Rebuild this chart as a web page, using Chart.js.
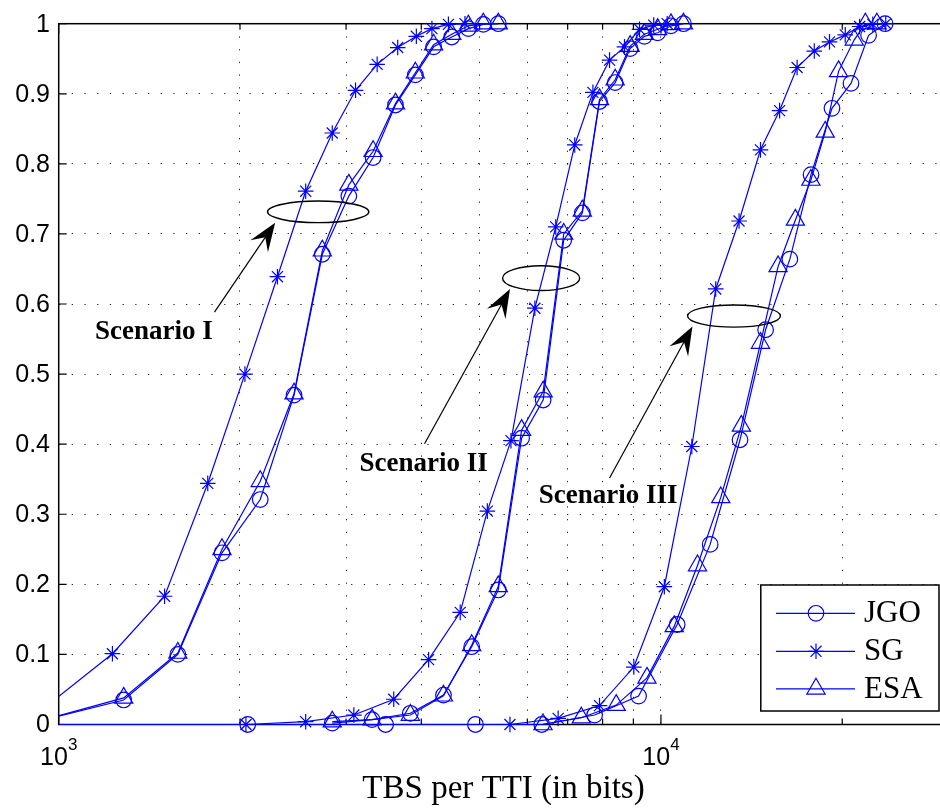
<!DOCTYPE html>
<html>
<head>
<meta charset="utf-8">
<script src="https://cdn.jsdelivr.net/npm/chart.js@4.4.1/dist/chart.umd.min.js"></script>
<style>
  html, body { margin: 0; padding: 0; background: #fff; overflow: hidden; }
  #wrap { width: 960px; height: 808px; }
  canvas { display: block; }
</style>
</head>
<body>
<div id="wrap"><canvas id="c" width="960" height="808"></canvas></div>
<script>
// ---------------- data ----------------
const seriesNames = ['JGO', 'SG', 'ESA'];
const xTitle = 'TBS per TTI (in bits)';
const xGridValues = [1000, 2000, 3000, 4000, 5000, 6000, 7000, 8000, 9000, 10000, 20000, 30000];
const xLabelValues = [1000, 10000];
const xLabelBases = ['10', '10'];
const xLabelExps = ['3', '4'];
const yTickLabels = ['0', '0.1', '0.2', '0.3', '0.4', '0.5', '0.6', '0.7', '0.8', '0.9', '1'];

// Scenario I
const jgoI_x = [985, 1282, 1577, 1867, 2161, 2459, 2740, 3032, 3327, 3624, 3910, 4193, 4494, 4789, 5071, 5370];
const jgoI_y = [0.0106, 0.035, 0.100, 0.245, 0.321, 0.470, 0.671, 0.754, 0.809, 0.884, 0.927, 0.967, 0.981, 0.993, 0.999, 1.0];
const sgI_x = [960, 1228, 1499, 1768, 2038, 2308, 2571, 2846, 3111, 3379, 3655, 3925, 4166, 4437, 4727];
const sgI_y = [0.028, 0.101, 0.183, 0.344, 0.500, 0.639, 0.761, 0.844, 0.905, 0.942, 0.966, 0.982, 0.993, 0.999, 1.0];
const esaI_x = [985, 1282, 1577, 1867, 2161, 2459, 2740, 3032, 3327, 3624, 3910, 4193, 4494, 4789, 5071, 5370];
const esaI_y = [0.011, 0.038, 0.102, 0.250, 0.347, 0.472, 0.676, 0.770, 0.818, 0.886, 0.930, 0.970, 0.985, 0.997, 1.0, 1.0];

// Scenario II
const jgoII_x = [2846, 3314, 3836, 4354, 4850, 5369, 5870, 6374, 6895, 7404, 7907, 8395, 8888, 9386, 9874, 10390, 10900];
const jgoII_y = [0.002, 0.007, 0.016, 0.042, 0.111, 0.192, 0.4085, 0.463, 0.691, 0.730, 0.889, 0.916, 0.9645, 0.982, 0.987, 0.997, 1.0];
const sgII_x = [2046, 2571, 3091, 3600, 4113, 4642, 5149, 5636, 6175, 6688, 7192, 7709, 8216, 8699, 9213, 9727, 10241];
const sgII_y = [0, 0.004, 0.0135, 0.036, 0.0925, 0.160, 0.3045, 0.405, 0.594, 0.710, 0.827, 0.902, 0.948, 0.967, 0.992, 0.998, 1.0];
const esaII_x = [2846, 3314, 3836, 4354, 4850, 5369, 5870, 6374, 6895, 7404, 7907, 8395, 8888, 9386, 9874, 10390, 10900];
const esaII_y = [0.004, 0.007, 0.0135, 0.041, 0.113, 0.197, 0.420, 0.475, 0.700, 0.733, 0.892, 0.920, 0.968, 0.985, 0.992, 0.999, 1.0];

// Scenario III
const jgoIII_x = [630, 2060, 3490, 4920, 6340, 7760, 9180, 10640, 12070, 13530, 14920, 16370, 17750, 19230, 20680, 22120, 23560];
const jgoIII_y = [0, 0, 0, 0, 0, 0.0135, 0.0405, 0.1427, 0.257, 0.4063, 0.5633, 0.664, 0.7847, 0.8793, 0.9148, 0.9834, 1.0];
const sgIII_x = [5614, 6750, 7907, 9015, 10130, 11253, 12330, 13480, 14630, 15740, 16830, 17970, 19050, 20230, 21370, 22480, 23620];
const sgIII_y = [0, 0.0088, 0.027, 0.082, 0.1966, 0.3967, 0.6215, 0.7185, 0.820, 0.876, 0.9375, 0.961, 0.974, 0.984, 0.996, 0.999, 1.0];
const esaIII_x = [6370, 7375, 8427, 9480, 10520, 11500, 12570, 13600, 14630, 15650, 16720, 17740, 18740, 19720, 20940, 21850, 22830];
const esaIII_y = [0, 0.0097, 0.0277, 0.0665, 0.140, 0.2268, 0.324, 0.426, 0.5443, 0.6536, 0.72, 0.777, 0.8457, 0.932, 0.977, 1.0, 1.0];

// annotations (data coordinates)
const annoTexts = ['Scenario I', 'Scenario II', 'Scenario III'];
const annoTextPos = [[1149, 0.550], [3159, 0.3622], [6270, 0.3165]];
const annoArrows = [[1814, 0.5884, 2288, 0.7161], [4050, 0.4006, 5615, 0.6214], [8216, 0.3517, 11280, 0.568]];
const annoEllipses = [[2222, 3273, 0.7469, 0.7161], [5458, 7329, 0.6546, 0.6192], [11070, 15790, 0.5987, 0.5671]];

// ---------------- chart ----------------
const BLUE = '#0000ff';
const styles = {
  JGO: { pointStyle: 'circle', radius: 7.8 },
  SG: { pointStyle: 'star', radius: 7.8 },
  ESA: { pointStyle: 'triangle', radius: 10.5 }
};
function toPts(xs, ys) { return xs.map((x, i) => ({ x: x, y: ys[i] })); }
function mk(name, xs, ys) {
  const st = styles[name];
  return {
    label: name,
    data: toPts(xs, ys),
    borderColor: BLUE,
    borderWidth: 1.2,
    backgroundColor: 'rgba(0,0,0,0)',
    pointStyle: st.pointStyle,
    pointRadius: (c) => (c.raw && c.raw.x < 1000) ? 0 : st.radius,
    pointBorderColor: BLUE,
    pointBackgroundColor: 'rgba(0,0,0,0)',
    pointBorderWidth: 1.2,
    tension: 0,
    fill: false,
    clip: { left: 0, top: 14, right: 14, bottom: 14 }
  };
}
const datasets = [
  mk('JGO', jgoI_x, jgoI_y), mk('SG', sgI_x, sgI_y), mk('ESA', esaI_x, esaI_y),
  mk('JGO', jgoII_x, jgoII_y), mk('SG', sgII_x, sgII_y), mk('ESA', esaII_x, esaII_y),
  mk('JGO', jgoIII_x, jgoIII_y), mk('SG', sgIII_x, sgIII_y), mk('ESA', esaIII_x, esaIII_y)
];

const decorPlugin = {
  id: 'decor',
  beforeDatasetsDraw(chart) {
    const { ctx, chartArea: a, scales: { x, y } } = chart;
    ctx.save();
    ctx.strokeStyle = '#000';
    ctx.lineWidth = 1.5;
    ctx.setLineDash([]);
    ctx.strokeRect(a.left, a.top, a.right - a.left, a.bottom - a.top);
    ctx.lineWidth = 1.2;
    ctx.beginPath();
    xGridValues.forEach(v => {
      const px = x.getPixelForValue(v);
      const len = (xLabelValues.indexOf(v) >= 0) ? 10 : 6;
      ctx.moveTo(px, a.bottom); ctx.lineTo(px, a.bottom - len);
      ctx.moveTo(px, a.top); ctx.lineTo(px, a.top + len);
    });
    yTickLabels.forEach((t, i) => {
      const py = y.getPixelForValue(i / 10);
      ctx.moveTo(a.left, py); ctx.lineTo(a.left + 8, py);
      ctx.moveTo(a.right, py); ctx.lineTo(a.right - 8, py);
    });
    ctx.stroke();
    ctx.restore();
  },
  afterDatasetsDraw(chart) {
    const { ctx, chartArea: a, scales: { x, y } } = chart;
    ctx.save();
    ctx.setLineDash([]);
    // x tick labels 10^n
    ctx.fillStyle = '#000';
    ctx.textAlign = 'left';
    ctx.textBaseline = 'alphabetic';
    xLabelValues.forEach((v, i) => {
      const px = x.getPixelForValue(v);
      ctx.font = '25px "Liberation Sans", Arial, sans-serif';
      const wb = ctx.measureText(xLabelBases[i]).width;
      ctx.font = '17px "Liberation Sans", Arial, sans-serif';
      const we = ctx.measureText(xLabelExps[i]).width;
      const x0 = px - (wb + we) / 2;
      ctx.font = '25px "Liberation Sans", Arial, sans-serif';
      ctx.fillText(xLabelBases[i], x0, 765);
      ctx.font = '17px "Liberation Sans", Arial, sans-serif';
      ctx.fillText(xLabelExps[i], x0 + wb, 750);
    });
    // ellipses
    ctx.strokeStyle = '#000';
    ctx.lineWidth = 1.4;
    annoEllipses.forEach(e => {
      const l = x.getPixelForValue(e[0]), r = x.getPixelForValue(e[1]);
      const t = y.getPixelForValue(e[2]), b = y.getPixelForValue(e[3]);
      ctx.beginPath();
      ctx.ellipse((l + r) / 2, (t + b) / 2, (r - l) / 2, (b - t) / 2, 0, 0, Math.PI * 2);
      ctx.stroke();
    });
    // arrows
    ctx.fillStyle = '#000';
    ctx.lineWidth = 1.2;
    annoArrows.forEach(ar => {
      const x0 = x.getPixelForValue(ar[0]), y0 = y.getPixelForValue(ar[1]);
      const x1 = x.getPixelForValue(ar[2]), y1 = y.getPixelForValue(ar[3]);
      const dx = x1 - x0, dy = y1 - y0, L = Math.hypot(dx, dy);
      const ux = dx / L, uy = dy / L, qx = -uy, qy = ux;
      const hl = 28.5, hw = 10.6;
      ctx.beginPath();
      ctx.moveTo(x0, y0);
      ctx.lineTo(x1 - ux * hl * 0.6, y1 - uy * hl * 0.6);
      ctx.stroke();
      ctx.beginPath();
      ctx.moveTo(x1, y1);
      ctx.lineTo(x1 - ux * hl + qx * hw, y1 - uy * hl + qy * hw);
      ctx.lineTo(x1 - ux * hl * 0.62, y1 - uy * hl * 0.62);
      ctx.lineTo(x1 - ux * hl - qx * hw, y1 - uy * hl - qy * hw);
      ctx.closePath();
      ctx.fill();
    });
    // annotation texts
    ctx.font = 'bold 27px "Liberation Serif", "Times New Roman", serif';
    ctx.textAlign = 'left';
    ctx.textBaseline = 'alphabetic';
    annoTexts.forEach((t, i) => {
      ctx.fillText(t, x.getPixelForValue(annoTextPos[i][0]), y.getPixelForValue(annoTextPos[i][1]));
    });
    // legend
    const lx = 760.8, ly = 585, lw = 178.2, lh = 126;
    ctx.fillStyle = '#fff';
    ctx.fillRect(lx, ly, lw, lh);
    ctx.strokeStyle = '#000';
    ctx.lineWidth = 1.5;
    ctx.strokeRect(lx, ly, lw, lh);
    const rows = [613.3, 651.3, 688.8];
    seriesNames.forEach((n, i) => {
      const st = styles[n];
      const ry = rows[i];
      ctx.strokeStyle = BLUE;
      ctx.lineWidth = 1.2;
      ctx.beginPath();
      ctx.moveTo(776, ry); ctx.lineTo(855, ry);
      ctx.stroke();
      ctx.fillStyle = 'rgba(0,0,0,0)';
      Chart.helpers.drawPoint(ctx, { pointStyle: st.pointStyle, rotation: 0, radius: st.radius, borderWidth: 1.2 }, 816, ry);
      ctx.fillStyle = '#000';
      ctx.font = '31px "Liberation Serif", "Times New Roman", serif';
      ctx.fillText(n, 864, ry + 9);
    });
    ctx.restore();
  }
};

new Chart(document.getElementById('c'), {
  type: 'line',
  data: { datasets: datasets },
  plugins: [decorPlugin],
  options: {
    responsive: false,
    animation: false,
    devicePixelRatio: 1,
    layout: { padding: { left: 0, top: 20, right: 8.2, bottom: 0 } },
    plugins: { legend: { display: false }, tooltip: { enabled: false } },
    scales: {
      x: {
        type: 'logarithmic',
        min: 1000,
        max: 30000,
        afterBuildTicks: (s) => { s.ticks = xGridValues.map(v => ({ value: v })); },
        afterFit: (s) => { s.height = 83.5; },
        ticks: { display: false },
        grid: { color: 'rgba(0,0,0,0.85)', lineWidth: 1, drawTicks: false },
        border: { display: false, dash: [1.3, 11.4] },
        title: {
          display: true,
          text: xTitle,
          color: '#000',
          font: { family: '"Liberation Serif", "Times New Roman", serif', size: 33, lineHeight: 1 },
          padding: { top: 0, bottom: 2.6 }
        }
      },
      y: {
        type: 'linear',
        min: 0,
        max: 1,
        afterFit: (s) => { s.width = 58.7; },
        ticks: {
          stepSize: 0.1,
          padding: 8.7,
          labelOffset: 1,
          color: '#000',
          font: { family: '"Liberation Sans", Arial, sans-serif', size: 25 },
          callback: (v) => yTickLabels[Math.round(v * 10)]
        },
        grid: { color: 'rgba(0,0,0,0.85)', lineWidth: 1, drawTicks: false },
        border: { display: false, dash: [1.3, 11.4] }
      }
    }
  }
});
</script>
</body>
</html>
